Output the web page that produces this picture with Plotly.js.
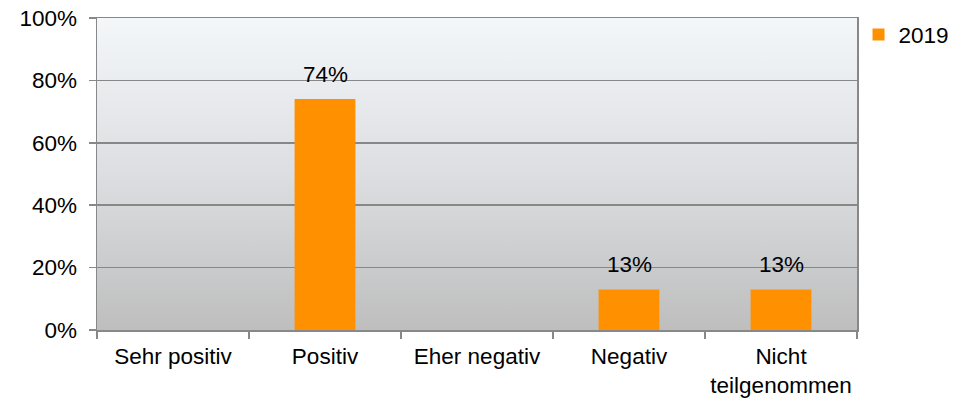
<!DOCTYPE html>
<html>
<head>
<meta charset="utf-8">
<script src="https://cdn.plot.ly/plotly-3.0.1.min.js"></script>
<style>
  html, body { margin: 0; padding: 0; background: #ffffff; }
  #chart { width: 954px; height: 401px; }
</style>
</head>
<body>
<div id="chart"></div>
<script>
const categories = ["Sehr positiv", "Positiv", "Eher negativ", "Negativ", "Nicht<br>teilgenommen"];
const values2019 = [null, 0.74, null, 0.13, 0.13];
const seriesName = "2019";
const yTickValues = [0, 0.2, 0.4, 0.6, 0.8, 1.0];
const yTickLabels = ["0%", "20%", "40%", "60%", "80%", "100%"];

const FONT = "Liberation Sans, Arial, sans-serif";
const FS = 22.5;
const GRID = "#888888";

const gradSvg = '<svg xmlns="http://www.w3.org/2000/svg" width="100" height="100" viewBox="0 0 100 100" preserveAspectRatio="none">' +
  '<defs><linearGradient id="g" x1="0" y1="0" x2="0" y2="1">' +
  '<stop offset="0" stop-color="#f4f7fa"/><stop offset="0.5" stop-color="#dcdee1"/><stop offset="1" stop-color="#bebebe"/>' +
  '</linearGradient></defs><rect x="0" y="0" width="100" height="100" fill="url(#g)"/></svg>';
const gradUri = "data:image/svg+xml;charset=utf-8," + encodeURIComponent(gradSvg);

const annotations = categories.map((c, i) => values2019[i] == null ? null : ({
  x: c, y: values2019[i], xref: "x", yref: "y",
  text: Math.round(values2019[i] * 100) + "%",
  showarrow: false, yanchor: "bottom", yshift: 10,
  font: { family: FONT, size: FS, color: "#000" }
})).filter(a => a);

const trace = {
  type: "bar",
  x: categories,
  y: values2019,
  name: seriesName,
  marker: { color: "#ff9100" },
  width: 0.4,
  hoverinfo: "skip",
  showlegend: true
};

const layout = {
  width: 954, height: 401,
  margin: { l: 97, r: 97, t: 18, b: 71, pad: 0, autoexpand: false },
  paper_bgcolor: "#ffffff",
  plot_bgcolor: "rgba(0,0,0,0)",
  font: { family: FONT, size: FS, color: "#000" },
  showlegend: true,
  legend: {
    x: 1.002, xanchor: "left", y: 1.015, yanchor: "top",
    font: { family: FONT, size: FS, color: "#000" },
    bgcolor: "rgba(0,0,0,0)",
    itemwidth: 30
  },
  xaxis: {
    type: "category",
    showgrid: false,
    showline: true, linecolor: GRID, linewidth: 1.5, mirror: true,
    ticks: "outside", ticklen: 7, tickcolor: GRID, tickwidth: 1.5,
    tickson: "boundaries",
    ticklabelstandoff: 5,
    tickfont: { family: FONT, size: FS, color: "#000" },
    fixedrange: true
  },
  yaxis: {
    range: [0, 1],
    tickvals: yTickValues,
    ticktext: yTickLabels,
    showgrid: true, gridcolor: GRID, gridwidth: 1.5,
    zeroline: false,
    showline: true, linecolor: GRID, linewidth: 1.5, mirror: true,
    ticks: "outside", ticklen: 7, tickcolor: GRID, tickwidth: 1.5,
    ticklabelstandoff: 7,
    tickfont: { family: FONT, size: FS, color: "#000" },
    fixedrange: true
  },
  images: [{
    source: gradUri, xref: "paper", yref: "paper",
    x: 0, y: 1, sizex: 1, sizey: 1, xanchor: "left", yanchor: "top",
    sizing: "stretch", layer: "below"
  }],
  annotations: annotations
};

Plotly.newPlot("chart", [trace], layout, { displayModeBar: false, staticPlot: true });
</script>
</body>
</html>
